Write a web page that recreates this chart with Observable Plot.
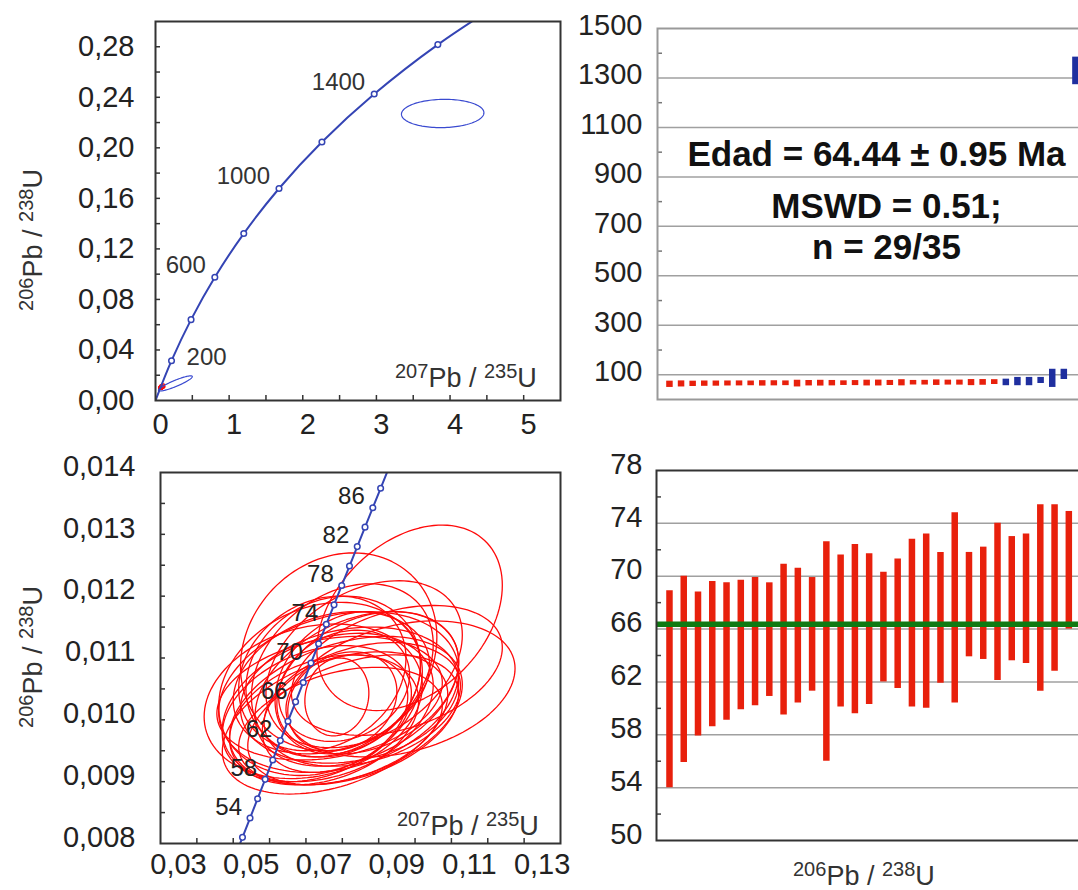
<!DOCTYPE html>
<html><head><meta charset="utf-8">
<script src="https://cdn.jsdelivr.net/npm/d3@7"></script>
<script src="https://cdn.jsdelivr.net/npm/@observablehq/plot@0.6"></script>
<style>
html,body{margin:0;padding:0;background:#fff;overflow:hidden;width:1078px;height:890px;}
#wrap{position:relative;width:1078px;height:890px;overflow:hidden;background:#fff;}
</style></head><body><div id="wrap"></div>
<script>
// ---------- DATA ----------
// Concordia (top-left): ages (Ma) and ratios 207Pb/235U (x), 206Pb/238U (y)
const tlAges = [0, 200, 400, 600, 800, 1000, 1200, 1400, 1600, 1800];
const tlX = [0, 0.21771, 0.48281, 0.80563, 1.19873, 1.67741, 2.26030, 2.97009, 3.83441, 4.88690];
const tlY = [0, 0.031511, 0.064016, 0.097544, 0.132133, 0.167826, 0.204601, 0.242574, 0.281729, 0.322109];
const tlLabelAges = [600, 1000, 1400];
const tlLabelLowAges = [200];

// Concordia (bottom-left), every 2 Ma
const blAges = [50,52,54,56,58,60,62,64,66,68,70,72,74,76,78,80,82,84,86,88,90];
const blX = [0.050475,0.052546,0.054621,0.056701,0.058784,0.060872,0.062963,0.065059,0.067159,0.069263,0.071371,0.073484,0.075601,0.077721,0.079846,0.081975,0.084108,0.086246,0.088387,0.090534,0.092684];
const blY = [0.0077864,0.0080991,0.0084119,0.0087248,0.0090378,0.0093509,0.0096641,0.0099774,0.0102908,0.0106043,0.0109179,0.0112316,0.0115454,0.0118593,0.0121733,0.0124873,0.0128015,0.0131158,0.0134301,0.0137446,0.0140592];
const blLabelAges = [54, 58, 62, 66, 70, 74, 78, 82, 86];

// Red error ellipses (concordant analyses): centre, half-ranges, correlation
const ellCx  = [0.0985,0.0790,0.0960,0.0950,0.0720,0.0780,0.0785,0.0800,0.0790,0.0760,0.0820,0.0770,0.0840,0.0750,0.0810,0.0775,0.0855,0.0740,0.0800,0.0830,0.0765,0.0870,0.0795,0.0745,0.0815,0.0780,0.0860,0.0730,0.0805];
const ellCy  = [0.01165,0.01110,0.01050,0.01080,0.01030,0.00995,0.01037,0.01030,0.01045,0.01020,0.01040,0.01060,0.01050,0.01000,0.01015,0.01070,0.01025,0.01050,0.01080,0.01000,0.01035,0.01060,0.00990,0.01075,0.01060,0.01010,0.01090,0.01010,0.01055];
const ellRx  = [0.0255,0.0270,0.0315,0.0290,0.0300,0.0310,0.0088,0.0150,0.0330,0.0290,0.0300,0.0270,0.0280,0.0260,0.0320,0.0240,0.0270,0.0280,0.0250,0.0290,0.0310,0.0250,0.0280,0.0230,0.0200,0.0200,0.0270,0.0260,0.0180];
const ellRy  = [0.00150,0.00160,0.00110,0.00105,0.00125,0.00115,0.00063,0.00080,0.00130,0.00120,0.00110,0.00115,0.00125,0.00105,0.00120,0.00130,0.00100,0.00140,0.00140,0.00105,0.00100,0.00115,0.00095,0.00125,0.00115,0.00095,0.00135,0.00110,0.00090];
const ellRho = [0.35,0.15,0.30,0.35,0.20,0.40,0.10,0.20,0.25,0.30,0.20,0.25,0.35,0.30,0.35,0.15,0.30,0.20,0.30,0.40,0.25,0.30,0.35,0.20,0.25,0.30,0.35,0.30,0.20];

// Blue ellipses (discordant / inherited) in top-left
const blueCx  = [0.27, 3.90];
const blueCy  = [0.0135, 0.2272];
const blueRx  = [0.23, 0.56];
const blueRy  = [0.0060, 0.0112];
const blueRho = [0.90, 0.05];

// 206Pb/238U ages (Ma): error-bar low / high for the 29 concordant grains
const barLo = [54.0,55.9,57.9,58.6,59.1,59.9,60.2,60.9,59.5,60.4,61.3,56.0,60.1,59.6,60.3,62.0,61.5,60.1,60.0,61.9,60.4,63.9,63.7,62.1,63.6,63.4,61.3,62.8,66.0];
const barHi = [68.9,70.0,68.8,69.6,69.5,69.7,69.9,69.5,70.9,70.6,69.9,72.6,71.6,72.4,71.7,70.3,71.3,72.8,73.2,71.8,74.8,71.8,72.2,74.0,73.0,73.2,75.4,75.4,74.9];
// rejected analyses (blue) in the top-right panel
const rejLo = [61, 61, 61, 70, 54, 86, 1278];
const rejHi = [77, 84, 84, 84, 117, 117, 1379];
const meanAge = 66.36;
const statLines = ["Edad = 64.44 ± 0.95 Ma", "MSWD = 0.51;", "n = 29/35"];

// Tick values
const tlXTicks = [0, 1, 2, 3, 4, 5];
const tlXMinor = [0.5, 1, 1.5, 2, 2.5, 3, 3.5, 4, 4.5, 5];
const tlYTicks = [0, 0.04, 0.08, 0.12, 0.16, 0.20, 0.24, 0.28];
const tlYMinor = [0.02,0.04,0.06,0.08,0.10,0.12,0.14,0.16,0.18,0.20,0.22,0.24,0.26,0.28];
const blXTicks = [0.03, 0.05, 0.07, 0.09, 0.11, 0.13];
const blXMinor = [0.04,0.05,0.06,0.07,0.08,0.09,0.10,0.11,0.12,0.13];
const blYTicks = [0.008, 0.009, 0.010, 0.011, 0.012, 0.013, 0.014];
const blYMinor = [0.0085,0.009,0.0095,0.010,0.0105,0.011,0.0115,0.012,0.0125,0.013,0.0135];
const trYTicks = [100, 300, 500, 700, 900, 1100, 1300, 1500];
const trGrid = [100, 300, 500, 700, 900, 1100, 1300];
const trMinor = [200, 400, 600, 800, 1000, 1200, 1400];
const brYTicks = [50, 54, 58, 62, 66, 70, 74, 78];
const brGrid = [54, 58, 62, 66, 70, 74];
const brMinor = [52, 56, 60, 64, 68, 72, 76];

// ---------- HELPERS ----------
const FONT = "'Liberation Sans', Arial, Helvetica, sans-serif";
const BLUE = "#3444b4";
const RED = "#e8200c";
const wrap = document.getElementById("wrap");
const baseStyle = {background: "transparent", fontFamily: FONT, fontSize: "29px", color: "#222", maxWidth: "none", overflow: "visible"};
const comma = n => d => d.toFixed(n).replace(".", ",");

function ellipsePts(cx, cy, rx, ry, rho, id, n = 120) {
  const s = Math.sqrt(1 - rho * rho);
  return d3.range(n + 1).map(k => {
    const t = 2 * Math.PI * k / n;
    return {id, x: cx + rx * Math.cos(t), y: cy + ry * (rho * Math.cos(t) + s * Math.sin(t))};
  });
}
function place(node, left, top) {
  node.style.position = "absolute";
  node.style.left = left + "px";
  node.style.top = top + "px";
  wrap.appendChild(node);
}
function isoLabel(svg, x, y, a, b, rotate) {
  const t = d3.select(svg).append("text")
    .attr("transform", `translate(${x},${y})` + (rotate ? " rotate(-90)" : ""))
    .attr("text-anchor", rotate ? "middle" : "start")
    .attr("font-family", FONT).attr("font-size", 27).attr("fill", "#333")
    .style("white-space", "pre");
  t.append("tspan").attr("font-size", 20).attr("dy", -9).text(a[0]);
  t.append("tspan").attr("dy", 9).text(a[1]);
  t.append("tspan").attr("font-size", 20).attr("dy", -9).text(b[0]);
  t.append("tspan").attr("dy", 9).text(b[1]);
}

const redEll = ellCx.flatMap((cx, i) => ellipsePts(cx, ellCy[i], ellRx[i], ellRy[i], ellRho[i], i));
const blueEll = blueCx.flatMap((cx, i) => ellipsePts(cx, blueCy[i], blueRx[i], blueRy[i], blueRho[i], i));
const tlPts = tlAges.map((a, i) => ({age: a, x: tlX[i], y: tlY[i]}));
const tlDots = tlPts.filter(d => d.age >= 200 && d.age <= 1600);
const blPts = blAges.map((a, i) => ({age: a, x: blX[i], y: blY[i]}));
const bars = barLo.map((lo, i) => ({i, lo, hi: barHi[i]}));
const rej = rejLo.map((lo, k) => ({i: barLo.length + k, lo, hi: rejHi[k]}));

// ---------- TOP-LEFT ----------
const tl = Plot.plot({
  width: 565, height: 440, marginLeft: 155, marginRight: 5, marginTop: 21, marginBottom: 40,
  x: {domain: [0, 5.5], axis: null}, y: {domain: [0, 0.30], axis: null},
  style: baseStyle,
  marks: [
    Plot.line(redEll, {x: "x", y: "y", z: "id", stroke: "#ff0a0a", strokeWidth: 1.3, clip: true}),
    Plot.line(blueEll, {x: "x", y: "y", z: "id", stroke: "#3a4ad0", strokeWidth: 1.2, clip: true}),
    Plot.line(tlPts, {x: "x", y: "y", stroke: BLUE, strokeWidth: 2, curve: "catmull-rom", clip: true}),
    Plot.dot(tlDots, {x: "x", y: "y", r: 2.8, stroke: BLUE, fill: "white", strokeWidth: 1.5}),
    Plot.text(tlPts.filter(d => tlLabelAges.includes(d.age)), {x: "x", y: "y", text: d => String(d.age), textAnchor: "end", dx: -9, dy: -12, fontSize: 24, fill: "#333"}),
    Plot.text(tlPts.filter(d => tlLabelLowAges.includes(d.age)), {x: "x", y: "y", text: d => String(d.age), textAnchor: "start", dx: 15, dy: -3, fontSize: 24, fill: "#333"}),
    Plot.ruleX(tlXMinor, {x: d => d, insetTop: 374, stroke: "#333", strokeWidth: 1.5}),
    Plot.ruleY(tlYMinor, {y: d => d, insetRight: 400, stroke: "#333", strokeWidth: 1.5}),
    Plot.frame({stroke: "#333", strokeWidth: 2}),
    Plot.axisX({ticks: tlXTicks, tickSize: 0, tickPadding: 13, tickFormat: d => String(d), fontSize: 29, dx: 5, label: null}),
    Plot.axisY({ticks: tlYTicks, tickSize: 0, tickPadding: 21, tickFormat: comma(2), fontSize: 29, label: null})
  ]
});
place(tl, 0, 0);
isoLabel(tl, 395, 387, ["207", "Pb / "], ["235", "U"], false);
isoLabel(tl, 42, 240, ["206", "Pb / "], ["238", "U"], true);

// ---------- TOP-RIGHT ----------
const tr = Plot.plot({
  width: 530, height: 440, marginLeft: 97, marginRight: 0, marginTop: 28, marginBottom: 41,
  x: {domain: [-1.03, 36.3], axis: null}, y: {domain: [0, 1500], axis: null},
  style: baseStyle,
  marks: [
    Plot.ruleY(trGrid, {y: d => d, stroke: "#a0a0a0", strokeWidth: 1.5}),
    Plot.ruleY(trMinor, {y: d => d, insetRight: 428, stroke: "#777", strokeWidth: 1.5}),
    Plot.ruleX(bars, {x: "i", y1: "hi", y2: "lo", stroke: RED, strokeWidth: 6.5, insetTop: -1.3, insetBottom: -1.3}),
    Plot.ruleX(rej, {x: "i", y1: "hi", y2: "lo", stroke: "#1f2f9f", strokeWidth: 6.5, insetTop: -1.3, insetBottom: -1.3}),
    Plot.frame({stroke: "#999", strokeWidth: 2}),
    Plot.axisY({ticks: trYTicks, tickSize: 0, tickPadding: 15, dy: -3, tickFormat: d => String(d), fontSize: 29, label: null}),
    Plot.text([statLines[0]], {text: d => d, frameAnchor: "top-left", textAnchor: "middle", lineAnchor: "middle", dx: 219, dy: 126, fontSize: 35, fontWeight: "bold", fill: "#111"}),
    Plot.text([statLines[1]], {text: d => d, frameAnchor: "top-left", textAnchor: "middle", lineAnchor: "middle", dx: 229, dy: 178, fontSize: 35, fontWeight: "bold", fill: "#111"}),
    Plot.text([statLines[2]], {text: d => d, frameAnchor: "top-left", textAnchor: "middle", lineAnchor: "middle", dx: 229, dy: 219, fontSize: 35, fontWeight: "bold", fill: "#111"})
  ]
});
place(tr, 560, 0);

// ---------- BOTTOM-LEFT ----------
const bl = Plot.plot({
  width: 565, height: 450, marginLeft: 160, marginRight: 5, marginTop: 32, marginBottom: 47,
  x: {domain: [0.03, 0.14], axis: null}, y: {domain: [0.008, 0.014], axis: null},
  style: baseStyle,
  marks: [
    Plot.line(redEll, {x: "x", y: "y", z: "id", stroke: "#ff0a0a", strokeWidth: 1.3, clip: true}),
    Plot.line(blPts, {x: "x", y: "y", stroke: BLUE, strokeWidth: 2, clip: true}),
    Plot.dot(blPts, {x: "x", y: "y", r: 2.8, stroke: BLUE, fill: "white", strokeWidth: 1.5, clip: true}),
    Plot.text(blPts.filter(d => blLabelAges.includes(d.age)), {x: "x", y: "y", text: d => String(d.age), textAnchor: "end", dx: -8, dy: -11, fontSize: 24, fill: "#222"}),
    Plot.ruleX(blXMinor, {x: d => d, insetTop: 366, stroke: "#333", strokeWidth: 1.5}),
    Plot.ruleY(blYMinor, {y: d => d, insetRight: 395, stroke: "#333", strokeWidth: 1.5}),
    Plot.frame({stroke: "#333", strokeWidth: 2}),
    Plot.axisX({ticks: blXTicks, tickSize: 0, tickPadding: 10, tickFormat: comma(2), fontSize: 29, dx: 18, label: null}),
    Plot.axisY({ticks: blYTicks, tickSize: 0, tickPadding: 25, tickFormat: comma(3), fontSize: 29, dy: -6, label: null})
  ]
});
place(bl, 0, 440);
isoLabel(bl, 397, 395, ["207", "Pb / "], ["235", "U"], false);
isoLabel(bl, 42, 217, ["206", "Pb / "], ["238", "U"], true);

// ---------- BOTTOM-RIGHT ----------
const br = Plot.plot({
  width: 530, height: 450, marginLeft: 96, marginRight: 0, marginTop: 30, marginBottom: 50,
  x: {domain: [-0.91, 29.52], axis: null}, y: {domain: [50, 78], axis: null},
  style: baseStyle,
  marks: [
    Plot.ruleY(brGrid, {y: d => d, stroke: "#a0a0a0", strokeWidth: 1.5}),
    Plot.ruleY(brMinor, {y: d => d, insetRight: 429, stroke: "#444", strokeWidth: 1.5}),
    Plot.ruleX(bars, {x: "i", y1: "lo", y2: "hi", stroke: RED, strokeWidth: 6.5}),
    Plot.ruleY([meanAge], {y: d => d, stroke: "#0f7a12", strokeWidth: 5.5}),
    Plot.frame({stroke: "#333", strokeWidth: 2}),
    Plot.axisY({ticks: brYTicks, tickSize: 0, tickPadding: 14, dy: -6, fontSize: 29, label: null})
  ]
});
place(br, 560, 440);
isoLabel(br, 233, 445, ["206", "Pb / "], ["238", "U"], false);
</script>
</body></html>
